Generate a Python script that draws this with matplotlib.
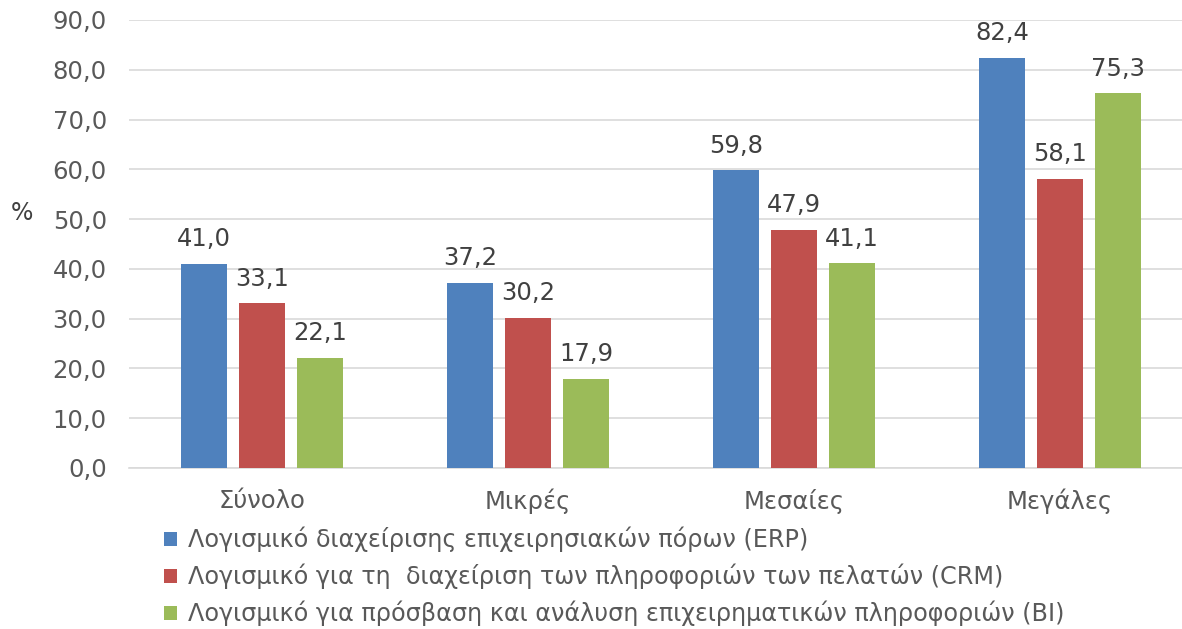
import matplotlib.pyplot as plt
import numpy as np

categories = ['Σύνολο', 'Μικρές', 'Μεσαίες', 'Μεγάλες']
series_names = [
    'Λογισμικό διαχείρισης επιχειρησιακών πόρων (ERP)',
    'Λογισμικό για τη  διαχείριση των πληροφοριών των πελατών (CRM)',
    'Λογισμικό για πρόσβαση και ανάλυση επιχειρηματικών πληροφοριών (BI)',
]
erp = [41.0, 37.2, 59.8, 82.4]
crm = [33.1, 30.2, 47.9, 58.1]
bi = [22.1, 17.9, 41.1, 75.3]
colors = ['#4F81BD', '#C0504D', '#9BBB59']

plt.rcParams['font.family'] = ['DejaVu Sans']

fig = plt.figure(figsize=(11.82, 6.29), dpi=100)
ax = fig.add_axes([129 / 1182, 1 - 468 / 629, 1064 / 1182, 448 / 629])

x = np.arange(len(categories))
width = 0.173
step = 0.218
for i, (vals, name, c) in enumerate(zip([erp, crm, bi], series_names, colors)):
    bars = ax.bar(x + (i - 1) * step, vals, width, color=c, label=name, zorder=3)
    for b, v in zip(bars, vals):
        ax.annotate(f'{v:.1f}'.replace('.', ','),
                    (b.get_x() + b.get_width() / 2, v),
                    xytext=(0, 9), textcoords='offset points',
                    ha='center', va='bottom', fontsize=17.5, color='#404040')

ax.set_xlim(-0.5, 3.5)
ax.set_ylim(0, 90)
ax.set_yticks(np.arange(0, 91, 10))
ax.set_yticklabels([f'{t:.1f}'.replace('.', ',') for t in np.arange(0, 91, 10)])
ax.set_xticks(x)
ax.set_xticklabels(categories)
ax.tick_params(axis='both', length=0, labelsize=17.5, colors='#595959')
ax.tick_params(axis='x', pad=15)
ax.tick_params(axis='y', pad=16)
ax.grid(axis='y', color='#D9D9D9', linewidth=1.2, zorder=0)
for s in ['top', 'right', 'left']:
    ax.spines[s].set_visible(False)
ax.spines['bottom'].set_color('#D9D9D9')
ax.spines['bottom'].set_linewidth(1.2)

fig.text(22 / 1182, 1 - 213 / 629, '%', fontsize=17, color='#404040',
         ha='center', va='center')

fig.legend(loc='upper left', bbox_to_anchor=(164 / 1182, 1 - 527 / 629),
           frameon=False, fontsize=17.2, labelcolor='#595959',
           handlelength=0.55, handleheight=0.55, handletextpad=0.45,
           labelspacing=0.48, borderpad=0, borderaxespad=0)

fig.savefig('out.png', dpi=100)
